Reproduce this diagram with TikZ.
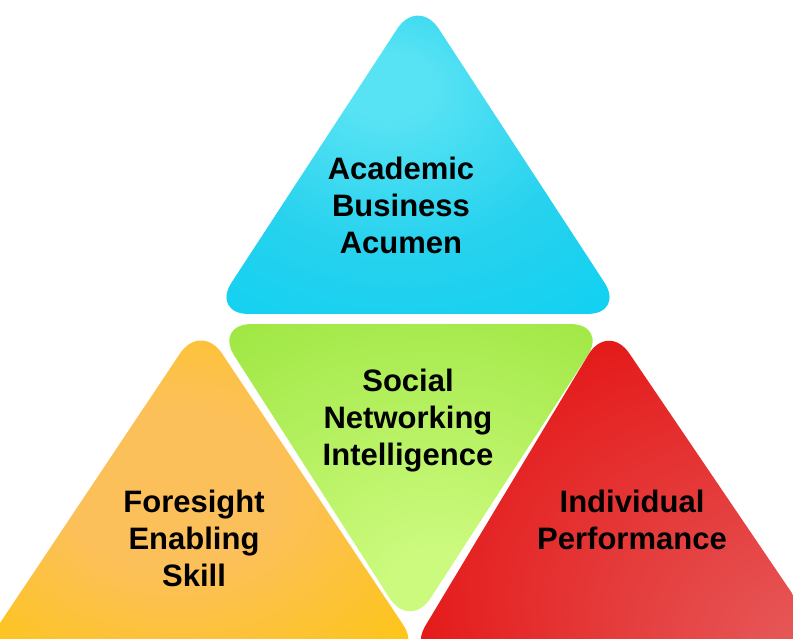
\documentclass[tikz,border=0pt]{standalone}
\usepackage{fontspec}
\setmainfont{Liberation Sans}
\usetikzlibrary{positioning}

% colours of the four triangles
\definecolor{bluelight}{HTML}{58E3F4}
\definecolor{bluemid}{HTML}{28D2EE}
\definecolor{bluedark}{HTML}{0CD0F2}
\definecolor{greenlight}{HTML}{CCFA7E}
\definecolor{greendark}{HTML}{98E43A}
\definecolor{orangelight}{HTML}{FCC05A}
\definecolor{orangedark}{HTML}{FEC60C}
\definecolor{redlight}{HTML}{E65A5A}
\definecolor{reddark}{HTML}{E40A0A}

% glows, offset towards the lighter spot of each triangle
\pgfdeclareradialshading{blueglow}{\pgfpoint{-4bp}{12bp}}{color(0bp)=(bluelight); color(5bp)=(bluelight); color(22bp)=(bluemid); color(42bp)=(bluedark); color(60bp)=(bluedark)}
\pgfdeclareradialshading{greenglow}{\pgfpoint{4bp}{-20bp}}{color(0bp)=(greenlight); color(6bp)=(greenlight); color(45bp)=(greendark); color(60bp)=(greendark)}
\pgfdeclareradialshading{orangeglow}{\pgfpoint{-4bp}{0bp}}{color(0bp)=(orangelight); color(12bp)=(orangelight); color(38bp)=(orangedark); color(60bp)=(orangedark)}
\pgfdeclareradialshading{redglow}{\pgfpoint{30bp}{-30bp}}{color(0bp)=(redlight); color(6bp)=(redlight); color(44bp)=(reddark); color(60bp)=(reddark)}

\begin{document}
\begin{tikzpicture}[x=1pt,y=-1pt,
tri/.style={rounded corners=38pt},
tritext/.style={font=\fontsize{31}{37}\selectfont\bfseries, align=center, inner sep=0pt}]
\useasboundingbox (0,0) rectangle (793,639);
\clip (0,0) rectangle (793,639);
% Corners
\coordinate (a1) at (418,-3);
\coordinate (a2) at (211,314);
\coordinate (a3) at (625,314);
\coordinate (s1) at (214,324);
\coordinate (s2) at (608,324);
\coordinate (s3) at (410,630);
\coordinate (f1) at (201,322);
\coordinate (f2) at (-22,656);
\coordinate (f3) at (424,656);
\coordinate (p1) at (608,322);
\coordinate (p2) at (406,658);
\coordinate (p3) at (836,658);
% Triangles
\shade[tri, shading=blueglow] (a1) -- (a3) -- (a2) -- cycle;
\shade[tri, shading=greenglow] (s1) -- (s2) -- (s3) -- cycle;
\shade[tri, shading=orangeglow] (f1) -- (f3) -- (f2) -- cycle;
\shade[tri, shading=redglow] (p1) -- (p3) -- (p2) -- cycle;
% Labels
\node[tritext] (acumen) at (401,205) {Academic\\Business\\Acumen};
\node[tritext] (social) at (408,421) {Social\\Networking\\Intelligence};
\node[tritext] (foresight) at (194,538) {Foresight\\Enabling\\Skill};
\node[tritext] (perform) at (632,520) {Individual\\Performance};
\end{tikzpicture}
\end{document}
